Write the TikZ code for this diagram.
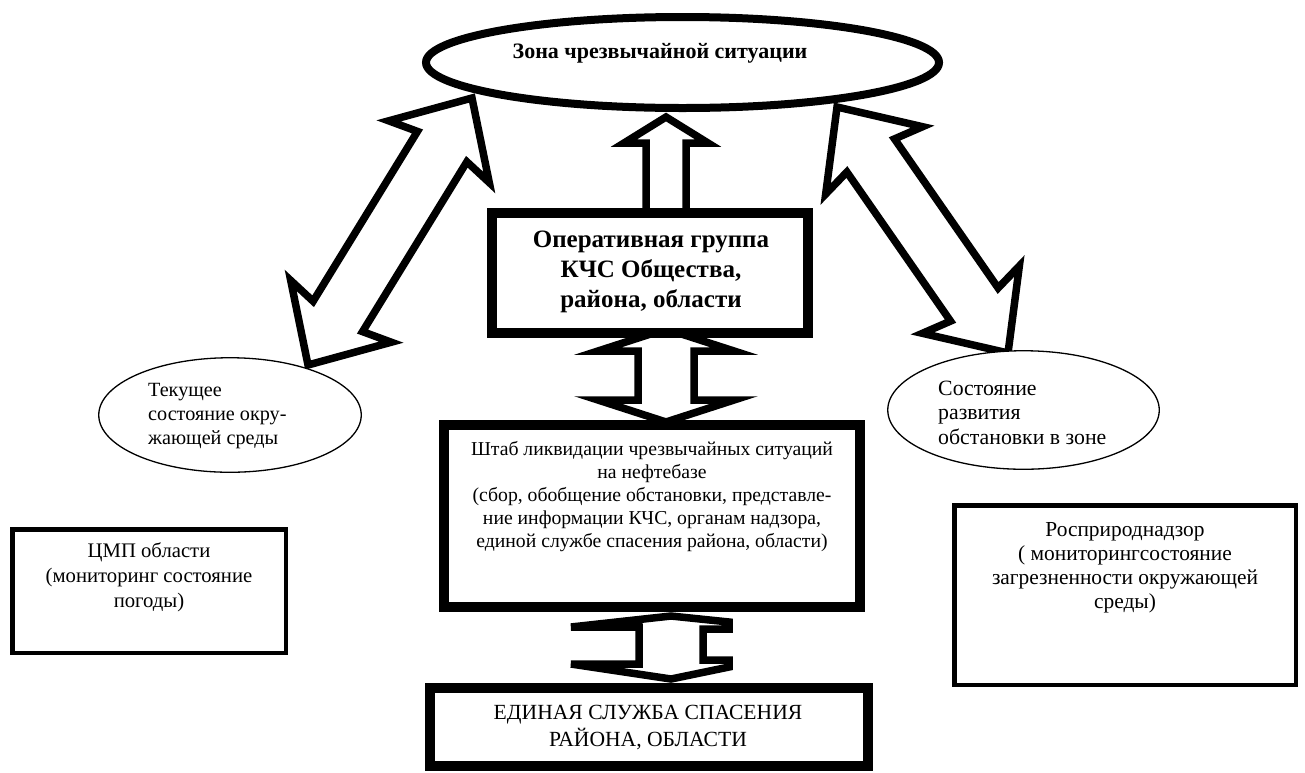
\documentclass[tikz,border=0pt]{standalone}
\usepackage{fontspec}
\setmainfont{Liberation Serif}
\usetikzlibrary{calc,shapes.geometric}
\pgfdeclarelayer{bg}
\pgfdeclarelayer{arr}
\pgfsetlayers{bg,arr,main}

\tikzset{
  blockarrow/.style={draw=black, fill=white, line width=7.5pt, line join=miter, miter limit=10},
  thickbox/.style={rectangle, draw=black, fill=white, line width=10pt, inner sep=0pt},
  medbox/.style={rectangle, draw=black, fill=white, line width=4.5pt, inner sep=0pt},
  thinell/.style={ellipse, draw=black, fill=white, line width=1.3pt, inner sep=0pt},
  zoneell/.style={ellipse, draw=black, fill=white, line width=8pt, inner sep=0pt},
  lbl/.style={inner sep=0pt, align=center, font=\fontsize{21}{23}\selectfont},
}

% double block arrow: tipA, tipB, head length, barb sweep, wing half-width, shaft half-width
\newcommand{\dblarrow}[6]{%
  \path let \p1=(#1), \p2=(#2), \n1={atan2(\y2-\y1,\x2-\x1)}, \n2={veclen(\x2-\x1,\y2-\y1)} in
    (\p1) \pgfextra{\xdef\arrang{\n1}\xdef\arrlen{\n2}};
  \begin{scope}[shift={(#1)}, rotate=\arrang]
    \draw[blockarrow] (0,0) -- ({#3+#4},{#5}) -- ({#3},{#6}) -- ({\arrlen-#3},{#6})
      -- ({\arrlen-#3-#4},{#5}) -- (\arrlen,0) -- ({\arrlen-#3-#4},{-#5})
      -- ({\arrlen-#3},{-#6}) -- ({#3},{-#6}) -- ({#3+#4},{-#5}) -- cycle;
  \end{scope}}

% single block arrow: base, tip, head length, barb sweep, wing half-width, shaft half-width
\newcommand{\sglarrow}[6]{%
  \path let \p1=(#1), \p2=(#2), \n1={atan2(\y2-\y1,\x2-\x1)}, \n2={veclen(\x2-\x1,\y2-\y1)} in
    (\p1) \pgfextra{\xdef\arrang{\n1}\xdef\arrlen{\n2}};
  \begin{scope}[shift={(#1)}, rotate=\arrang]
    \draw[blockarrow] (0,{#6}) -- ({\arrlen-#3},{#6}) -- ({\arrlen-#3-#4},{#5})
      -- (\arrlen,0) -- ({\arrlen-#3-#4},{-#5}) -- ({\arrlen-#3},{-#6}) -- (0,{-#6}) -- cycle;
  \end{scope}}

\begin{document}
\begin{tikzpicture}[x=1pt,y=-1pt]
\begin{pgfonlayer}{bg}
  \fill[white] (0,0) rectangle (1305,772);
\end{pgfonlayer}
\useasboundingbox (0,0) rectangle (1305,772);

% shapes
\node[zoneell, minimum width=513pt, minimum height=91pt] (zone) at (682.5,62.5) {};
\node[thickbox, minimum width=316pt, minimum height=120pt] (op) at (650,273) {};
\node[thickbox, minimum width=416pt, minimum height=182pt] (shtab) at (652,516) {};
\node[thickbox, minimum width=438pt, minimum height=78pt] (edin) at (649,727) {};
\node[thinell, minimum width=262.5pt, minimum height=114.5pt] (envL) at (230,415) {};
\node[thinell, minimum width=271.5pt, minimum height=118.5pt] (envR) at (1023.5,410) {};
\node[medbox, minimum width=273.5pt, minimum height=123.5pt] (cmp) at (149,591) {};
\node[medbox, minimum width=341.5pt, minimum height=179.5pt] (ros) at (1125,595) {};

% texts
\node[lbl, font=\bfseries\fontsize{22}{26}\selectfont] (zoneT) at (660,53) {Зона чрезвычайной ситуации};
\node[lbl, font=\bfseries\fontsize{25}{30}\selectfont] (opT) at (651,272)
  {Оперативная группа\\КЧС Общества,\\района, области};
\node[lbl, font=\fontsize{19.7}{23}\selectfont] (shtabT) at (652,497)
  {Штаб ликвидации чрезвычайных ситуаций\\на нефтебазе\\(сбор, обобщение обстановки, представле-\\ние информации КЧС, органам надзора,\\единой службе спасения района, области)};
\node[lbl, font=\fontsize{21.6}{27}\selectfont] (edinT) at (648,727)
  {ЕДИНАЯ СЛУЖБА СПАСЕНИЯ\\РАЙОНА, ОБЛАСТИ};
\node[lbl, align=left, anchor=west, font=\fontsize{20.2}{24}\selectfont] (envLT) at (148,416)
  {Текущее\\состояние окру-\\жающей среды};
\node[lbl, align=left, anchor=west, font=\fontsize{21.8}{24.5}\selectfont] (envRT) at (938,412.5)
  {Состояние\\развития\\обстановки в зоне};
\node[lbl, font=\fontsize{20.7}{25}\selectfont] (cmpT) at (149,577)
  {ЦМП области\\(мониторинг состояние\\погоды)};
\node[lbl, font=\fontsize{21.4}{24}\selectfont] (rosT) at (1125,568)
  {Росприроднадзор\\( мониторингсостояние\\загрезненности окружающей\\среды)};

% block arrows (behind the shapes)
\begin{pgfonlayer}{arr}
  \coordinate (lA) at ($(envL.center)+(78,-50)$);
  \coordinate (lB) at ($(zone.center)+(-210.5,35.5)$);
  \dblarrow{lA}{lB}{57}{6}{59}{29}
  \coordinate (rA) at ($(envR.center)+(-15.5,-57)$);
  \coordinate (rB) at ($(zone.center)+(154.5,44.5)$);
  \dblarrow{rA}{rB}{59}{6}{59}{29}
  \coordinate (uA) at ($(op.north)+(16,5)$);
  \coordinate (uB) at ($(zone.south)+(-16.5,5)$);
  \sglarrow{uA}{uB}{26}{0}{42}{20}
  \coordinate (mA) at ($(op.south)+(16,-9)$);
  \coordinate (mB) at ($(shtab.north)+(14,2)$);
  \dblarrow{mA}{mB}{22}{0}{68}{28}
  \coordinate (bM) at ($(shtab.south)!0.5!(edin.north)+(20.5,0)$);
  \begin{scope}[shift={(bM)}]
    \draw[blockarrow] (0,-31.5) -- (58,-25.5) -- (58,-18.5) -- (32,-18.5) -- (32,12.5)
      -- (58,12.5) -- (58,19.5) -- (0,31.5) -- (-100,16.5) -- (-32,16.5)
      -- (-32,-20.5) -- (-100,-20.5) -- cycle;
  \end{scope}
\end{pgfonlayer}
\end{tikzpicture}
\end{document}
